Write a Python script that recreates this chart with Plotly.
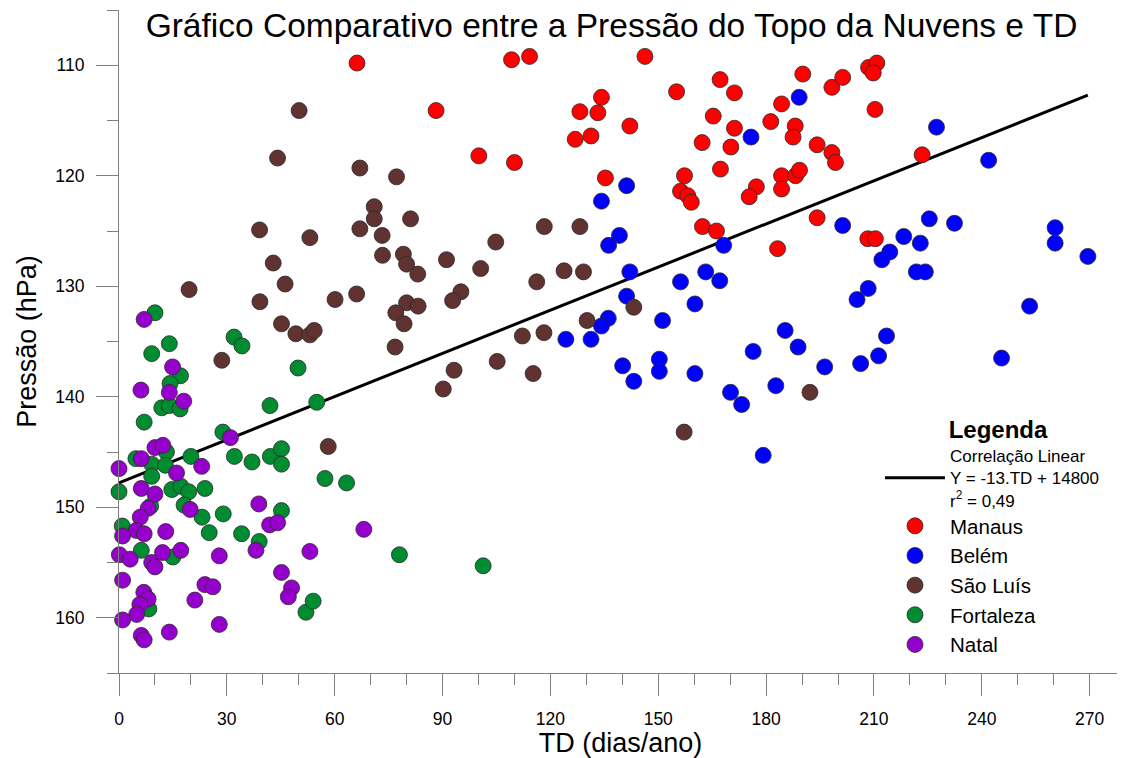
import plotly.graph_objects as go

FONT = "Liberation Sans, Arial, Helvetica, sans-serif"

# ---------------- data (TD in dias/ano, pressure in hPa) ----------------
manaus_td = [66.2, 88.2, 100.1, 110.0, 109.2, 114.2, 146.3, 128.2, 134.2, 133.2,
             126.9, 131.3, 142.1, 135.3, 155.1, 167.2, 171.2, 165.3, 171.2, 162.2,
             170.2, 167.3, 184.3, 190.2, 181.3, 188.1, 187.5, 198.3, 201.3, 208.5,
             210.8, 209.8, 210.3, 194.2, 198.3, 199.3, 157.3, 156.2, 158.2, 159.2,
             177.3, 175.3, 184.3, 184.3, 188.2, 189.3, 223.4, 194.2, 162.3, 166.2,
             183.2, 208.3, 210.4]
manaus_p = [109.8, 114.1, 118.2, 118.8, 109.5, 109.2, 109.2, 114.2, 112.9, 114.3,
            116.7, 116.4, 115.5, 120.2, 112.4, 111.3, 112.5, 114.6, 115.7, 117.0,
            117.4, 119.4, 113.5, 110.8, 115.1, 115.5, 116.5, 112.0, 111.1, 110.2,
            109.8, 110.7, 114.0, 117.2, 117.9, 118.8, 120.0, 121.4, 121.8, 122.4,
            121.0, 121.9, 120.0, 121.2, 120.0, 119.5, 118.1, 123.8, 124.6, 125.0,
            126.6, 125.7, 125.7]

belem_td = [189.2, 175.8, 227.4, 241.9, 141.2, 134.2, 139.2, 136.2, 168.2, 201.3,
            218.3, 222.9, 225.4, 232.4, 214.4, 212.2, 260.4, 260.4, 269.5, 142.1,
            141.2, 156.2, 163.2, 167.1, 160.2, 151.2, 136.1, 134.2, 124.3, 131.3,
            140.1, 143.2, 150.3, 150.3, 160.2, 170.1, 173.2, 182.7, 176.4, 185.3,
            188.9, 179.2, 221.8, 224.3, 208.4, 205.3, 253.3, 245.5, 196.3, 206.3,
            211.3, 213.5]
belem_p = [112.9, 116.5, 115.6, 118.6, 120.9, 122.3, 125.4, 126.3, 126.3, 124.5,
           125.5, 126.1, 123.9, 124.3, 126.9, 127.6, 124.7, 126.1, 127.3, 128.7,
           130.9, 129.6, 128.7, 129.5, 131.6, 133.1, 132.9, 133.6, 134.8, 134.8,
           137.2, 138.6, 136.6, 137.7, 137.9, 139.6, 140.7, 139.0, 135.9, 134.0,
           135.5, 145.3, 128.7, 128.7, 130.2, 131.2, 131.8, 136.5, 137.3, 137.0,
           136.3, 134.5]

saoluis_td = [50.1, 44.1, 67.0, 77.2, 71.0, 71.0, 81.1, 39.1, 53.1, 67.0,
              73.2, 118.3, 128.2, 104.8, 73.3, 79.1, 80.0, 83.1, 91.1, 42.9,
              100.6, 116.2, 123.8, 129.2, 95.1, 92.8, 80.0, 83.2, 77.0, 79.3,
              76.8, 112.2, 118.2, 130.2, 143.2, 105.2, 93.2, 90.2, 115.2, 157.2,
              192.2, 19.5, 46.2, 39.2, 60.1, 66.1, 45.2, 49.2, 53.1, 54.3,
              28.6, 58.2]
saoluis_p = [114.1, 118.4, 119.3, 120.1, 122.8, 123.9, 123.9, 124.9, 125.6, 124.8,
             125.4, 124.6, 124.6, 126.0, 127.2, 127.1, 128.0, 128.9, 127.6, 127.9,
             128.4, 129.6, 128.6, 128.7, 130.5, 131.3, 131.5, 131.8, 132.4, 133.4,
             135.5, 134.5, 134.2, 133.1, 131.9, 136.8, 137.6, 139.3, 137.9, 143.2,
             139.6, 130.3, 129.8, 131.4, 131.2, 130.7, 133.4, 134.3, 134.4, 134.0,
             136.7, 144.5]

fortaleza_td = [10.0, 14.0, 9.1, 32.0, 34.2, 49.8, 17.1, 14.2, 11.9, 14.0,
                17.0, 7.0, 42.0, 55.0, 28.9, 4.7, 9.1, 13.2, 12.9, 20.0,
                9.1, 32.1, 37.0, 42.1, 45.2, 45.2, 57.3, 63.3, 0.0, 14.7,
                17.2, 19.4, 23.9, 18.1, 23.1, 29.0, 25.1, 34.1, 45.2, 39.0,
                0.9, 6.2, 8.8, 15.0, 8.3, 52.0, 54.0, 78.0, 101.3]
fortaleza_p = [132.4, 135.2, 136.1, 134.6, 135.4, 137.4, 138.1, 138.8, 141.0, 140.8,
               141.1, 142.3, 140.8, 140.5, 143.2, 145.6, 146.1, 145.0, 146.2, 145.4,
               147.2, 145.4, 145.9, 145.4, 144.7, 146.1, 147.4, 147.8, 148.6, 148.4,
               148.1, 148.6, 148.3, 149.8, 150.9, 150.6, 152.3, 152.4, 150.3, 153.1,
               151.7, 153.9, 149.9, 154.5, 159.2, 159.5, 158.5, 154.3, 155.3]

natal_td = [7.0, 14.9, 6.1, 14.0, 18.0, 31.0, 10.0, 12.2, 6.2, 0.0,
            23.0, 16.0, 6.2, 10.0, 38.9, 8.1, 19.8, 5.9, 4.8, 1.0,
            7.0, 13.0, 0.1, 3.1, 9.1, 10.0, 12.1, 17.2, 27.9, 1.0,
            6.9, 8.1, 5.8, 4.9, 1.0, 21.1, 23.9, 26.1, 6.2, 7.0,
            14.0, 27.9, 41.9, 44.1, 38.1, 45.2, 48.0, 47.1, 53.1, 68.1]
natal_p = [133.0, 137.3, 139.4, 139.6, 140.4, 143.7, 144.6, 144.4, 145.6, 146.5,
           146.3, 146.9, 148.3, 148.8, 149.7, 150.1, 150.2, 150.9, 152.1, 152.6,
           152.4, 152.2, 154.3, 154.7, 155.0, 155.4, 154.1, 153.9, 154.4, 156.6,
           157.7, 158.3, 158.8, 159.7, 160.2, 158.4, 157.0, 157.2, 161.6, 162.0,
           161.3, 160.6, 151.6, 151.4, 153.9, 155.9, 157.3, 158.1, 154.0, 152.0]

fit_td = [0, 269.5]
fit_p = [147.8, 112.7]

series = [
    ("Manaus", manaus_td, manaus_p, "#FF0000"),
    ("Belém", belem_td, belem_p, "#0000FF"),
    ("São Luís", saoluis_td, saoluis_p, "#603230"),
    ("Fortaleza", fortaleza_td, fortaleza_p, "#008C30"),
    ("Natal", natal_td, natal_p, "#9600CD"),
]

fig = go.Figure()

fig.add_trace(go.Scatter(
    x=fit_td, y=fit_p, mode="lines",
    line=dict(color="black", width=3),
    name="Correlação Linear<br>Y = -13.TD + 14800<br>r<sup>2</sup> = 0,49",
    legend="legend2",
))

for name, xs, ys, col in series:
    fig.add_trace(go.Scatter(
        x=xs, y=ys, mode="markers", name=name,
        marker=dict(size=16, color=col, line=dict(color="#2a2a2a", width=0.8)),
        cliponaxis=False,
    ))

# the page body adds an 8px offset; the figure is sized to fill the rest
OFF = 8
W, H = 1125 - OFF, 758 - OFF
ML, MR, MT, MB = 119 - OFF, 3, 10 - OFF, 85
PW, PH = W - ML - MR, H - MT - MB


def px_x(px):
    return (px - OFF - ML) / PW


def px_y(py):
    return (H - MB - (py - OFF)) / PH


axis_col = "#7f7f7f"

fig.update_layout(
    width=W, height=H,
    margin=dict(l=ML, r=MR, t=MT, b=MB),
    paper_bgcolor="white", plot_bgcolor="white",
    font=dict(family=FONT, color="black"),
    title=dict(text="Gráfico Comparativo entre a Pressão do Topo da Nuvens e TD",
               x=(611.5 - OFF) / W, xanchor="center", y=1 - (25 - OFF) / H, yanchor="middle",
               font=dict(size=33.5, family=FONT, color="black")),
    xaxis=dict(
        range=[0, 279], showline=True, linecolor=axis_col, linewidth=1,
        ticks="outside", ticklen=22, tickcolor=axis_col, tickwidth=1,
        tick0=0, dtick=30, showgrid=False, zeroline=False,
        tickfont=dict(size=17.5, family=FONT, color="black"),
        ticklabelstandoff=8,
        minor=dict(dtick=10, tick0=0, ticks="outside", ticklen=11,
                   tickcolor=axis_col, tickwidth=1, showgrid=False),
        title=dict(text="TD (dias/ano)", font=dict(size=27, family=FONT, color="black"),
                   standoff=2),
    ),
    yaxis=dict(
        range=[165, 105], showline=True, linecolor=axis_col, linewidth=1,
        ticks="outside", ticklen=22, tickcolor=axis_col, tickwidth=1,
        tick0=110, dtick=10, showgrid=False, zeroline=False,
        tickfont=dict(size=17.5, family=FONT, color="black"),
        ticklabelstandoff=8,
        minor=dict(dtick=5, tick0=105, ticks="outside", ticklen=11,
                   tickcolor=axis_col, tickwidth=1, showgrid=False),
        title=dict(text="Pressão (hPa)", font=dict(size=27, family=FONT, color="black"),
                   standoff=10),
    ),
    legend=dict(
        x=px_x(880), y=px_y(506), xanchor="left", yanchor="top",
        font=dict(size=20.5, family=FONT, color="black"),
        itemwidth=60, bgcolor="rgba(0,0,0,0)", borderwidth=0,
        tracegroupgap=0,
    ),
    legend2=dict(
        x=px_x(880), y=px_y(407), xanchor="left", yanchor="top",
        title=dict(text="&nbsp;" * 10 + "<b>Legenda</b>",
                   font=dict(size=24, family=FONT, color="black")),
        font=dict(size=17, family=FONT, color="black"),
        itemwidth=60, valign="middle", bgcolor="rgba(0,0,0,0)", borderwidth=0,
    ),
    showlegend=True,
)

fig.write_html("out.html")
